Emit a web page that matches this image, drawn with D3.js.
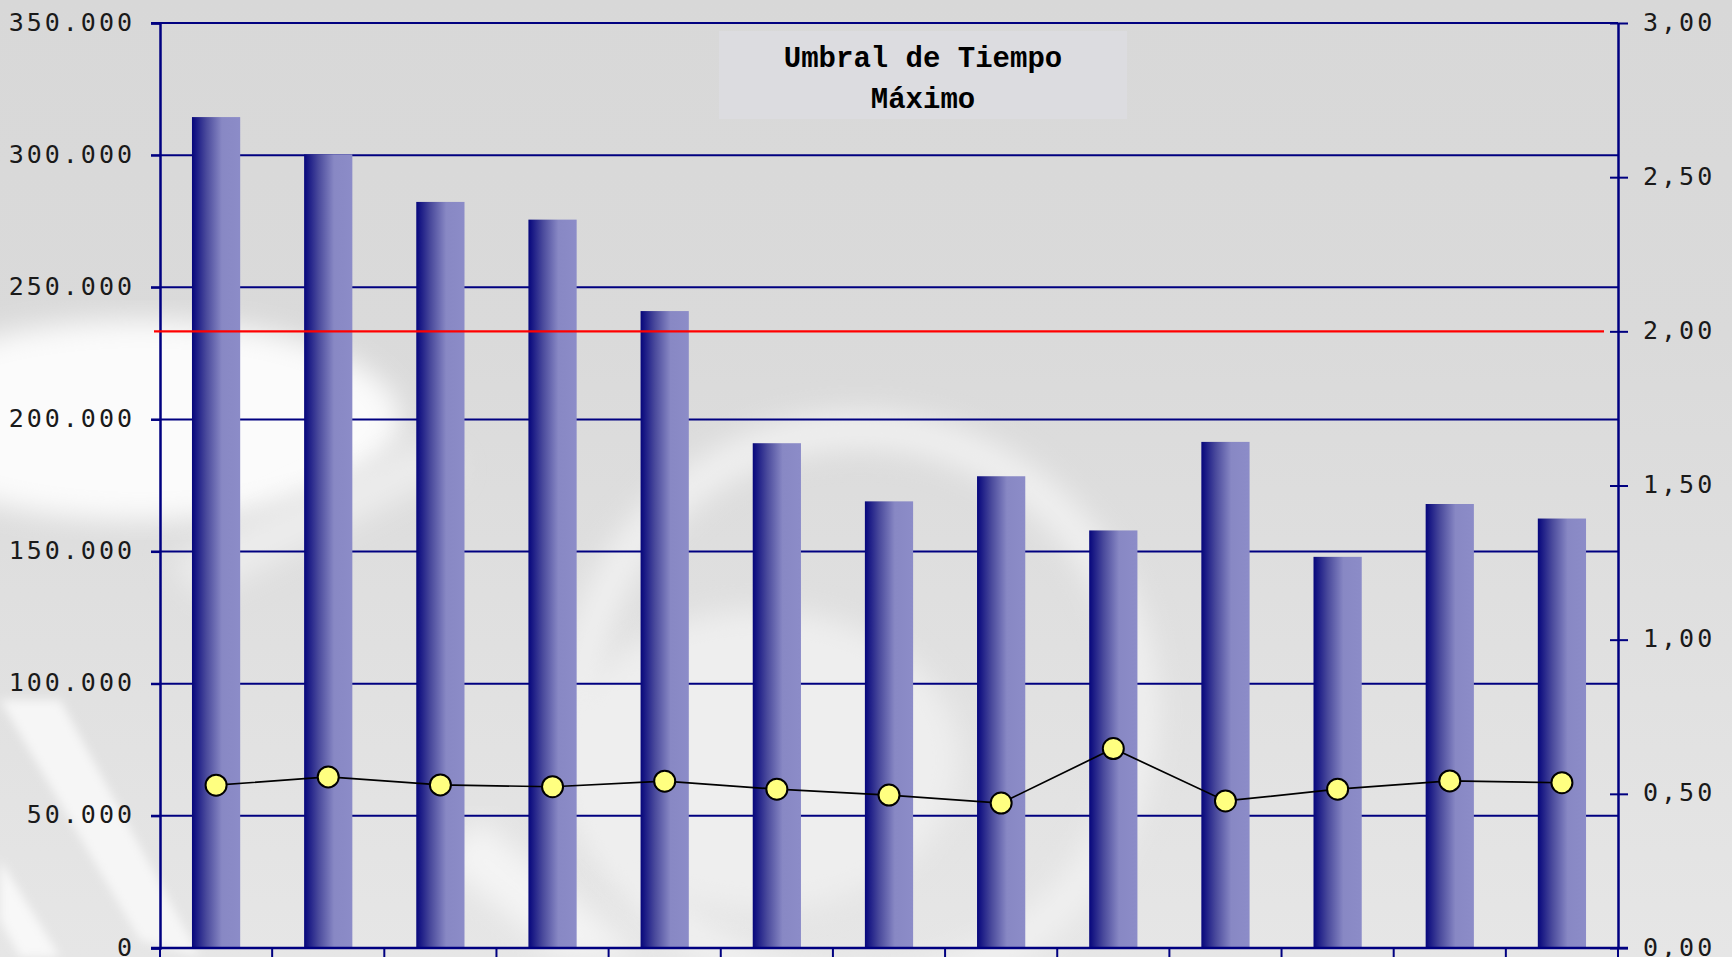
<!DOCTYPE html>
<html>
<head>
<meta charset="utf-8">
<script src="https://cdn.jsdelivr.net/npm/d3@7/dist/d3.min.js"></script>
<style>
  html, body { margin: 0; padding: 0; background: #d8d8d8; }
  svg { display: block; }
  .tick-label { font-family: "DejaVu Sans Mono", monospace; font-size: 25px; fill: #1a1a1a; letter-spacing: 3px; }
  .title { font-family: "Courier New", "Nimbus Mono PS", FreeMono, "Liberation Mono", monospace; font-size: 29px; font-weight: bold; fill: #000; }
</style>
</head>
<body>
<svg id="chart"></svg>
<script>
// data
var categories = ["1", "2", "3", "4", "5", "6", "7", "8", "9", "10", "11", "12", "13"];
var tiempo = [314400, 300300, 282300, 275600, 241000, 191000, 169000, 178500, 158000, 191500, 148000, 168000, 162500];
var ratio = [0.528, 0.555, 0.529, 0.523, 0.541, 0.515, 0.496, 0.470, 0.647, 0.477, 0.515, 0.542, 0.536];
var umbral = 2.0;
var leftTicks = [0, 50000, 100000, 150000, 200000, 250000, 300000, 350000];
var rightTicks = [0, 0.5, 1, 1.5, 2, 2.5, 3];
var titleLines = ["Umbral de Tiempo", "Máximo"];

var width = 1732, height = 957;
var margin = {top: 23, right: 114, bottom: 9, left: 160};
var navy = "#000080";

var svg = d3.select("#chart").attr("width", width).attr("height", height);
var defs = svg.append("defs");

// background
var bg = defs.append("linearGradient").attr("id", "bg").attr("x1", 0).attr("y1", 0).attr("x2", 0).attr("y2", 1);
bg.append("stop").attr("offset", 0).attr("stop-color", "#d8d8d8");
bg.append("stop").attr("offset", 0.35).attr("stop-color", "#dadada");
bg.append("stop").attr("offset", 1).attr("stop-color", "#e6e6e6");
defs.append("filter").attr("id", "blur").append("feGaussianBlur").attr("stdDeviation", 14);
defs.append("filter").attr("id", "blur2").append("feGaussianBlur").attr("stdDeviation", 5);

svg.append("rect").attr("width", width).attr("height", height).attr("fill", "url(#bg)");
var deco = svg.append("g");
deco.append("ellipse").attr("cx", 140).attr("cy", 420).attr("rx", 260).attr("ry", 100)
    .attr("fill", "#fbfbfb").attr("filter", "url(#blur)");
deco.append("circle").attr("cx", 860).attr("cy", 710).attr("r", 280)
    .attr("fill", "none").attr("stroke", "#f0f0f0").attr("stroke-width", 36).attr("filter", "url(#blur)");
deco.append("ellipse").attr("cx", 760).attr("cy", 760).attr("rx", 200).attr("ry", 150)
    .attr("fill", "#eeeeee").attr("filter", "url(#blur)");
deco.append("path").attr("d", "M0,700 L140,940 L200,957 L60,700 Z")
    .attr("fill", "#f6f6f6").attr("filter", "url(#blur2)");
deco.append("path").attr("d", "M0,860 L60,957 L20,957 L0,920 Z")
    .attr("fill", "#f8f8f8").attr("filter", "url(#blur2)");
deco.append("path").attr("d", "M170,560 L420,440 L460,470 L200,600 Z")
    .attr("fill", "#ececec").attr("filter", "url(#blur)");
deco.append("path").attr("d", "M480,820 L640,957 L560,957 L440,860 Z")
    .attr("fill", "#f4f4f4").attr("filter", "url(#blur)");

// bar gradient
var bar = defs.append("linearGradient").attr("id", "barGrad").attr("x1", 0).attr("y1", 0).attr("x2", 1).attr("y2", 0);
bar.append("stop").attr("offset", 0).attr("stop-color", "#06067c");
bar.append("stop").attr("offset", 0.3).attr("stop-color", "#4a4a9c");
bar.append("stop").attr("offset", 0.62).attr("stop-color", "#8888c4");
bar.append("stop").attr("offset", 1).attr("stop-color", "#8c8cc8");

var x = d3.scaleBand().domain(categories).range([margin.left, width - margin.right]).padding(0);
var y = d3.scaleLinear().domain([0, 350000]).range([height - margin.bottom, margin.top]);
var y2 = d3.scaleLinear().domain([0, 3]).range([height - margin.bottom, margin.top]);

var fmtLeft = function(v){ return d3.format(",")(v).replace(/,/g, "."); };
var fmtRight = function(v){ return d3.format(".2f")(v).replace(".", ","); };

// gridlines
svg.append("g").selectAll("line").data(leftTicks).join("line")
    .attr("x1", margin.left - 9).attr("x2", width - margin.right)
    .attr("y1", function(d){ return y(d); }).attr("y2", function(d){ return y(d); })
    .attr("stroke", navy).attr("stroke-width", 2);

// bars
var barW = x.bandwidth() * 0.43;
svg.append("g").selectAll("rect").data(tiempo).join("rect")
    .attr("x", function(d, i){ return x(categories[i]) + (x.bandwidth() - barW) / 2; })
    .attr("width", barW)
    .attr("y", function(d){ return y(d); })
    .attr("height", function(d){ return y(0) - y(d); })
    .attr("fill", "url(#barGrad)");

// axes
var leftAxis = svg.append("g").attr("transform", "translate(" + margin.left + ",0)")
    .call(d3.axisLeft(y).tickValues(leftTicks).tickFormat(fmtLeft).tickSize(9).tickPadding(19));
var rightAxis = svg.append("g").attr("transform", "translate(" + (width - margin.right) + ",0)")
    .call(d3.axisRight(y2).tickValues(rightTicks).tickFormat(fmtRight).tickSize(0).tickPadding(25));
rightAxis.selectAll(".tick").append("line").attr("x1", -8).attr("x2", 10).attr("stroke", navy).attr("stroke-width", 2);
var bottomAxis = svg.append("g").attr("transform", "translate(0," + y(0) + ")")
    .call(d3.axisBottom(x).tickSize(0).tickFormat(""));
bottomAxis.selectAll(".tick").remove();
bottomAxis.append("g").selectAll("line").data(categories.concat(["end"])).join("line")
    .attr("x1", function(d, i){ return margin.left + i * x.step(); })
    .attr("x2", function(d, i){ return margin.left + i * x.step(); })
    .attr("y1", 0).attr("y2", 12).attr("stroke", navy).attr("stroke-width", 2);

[leftAxis, rightAxis, bottomAxis].forEach(function(a){
    a.select(".domain").attr("stroke", navy).attr("stroke-width", 2.5);
    a.selectAll(".tick line").attr("stroke", navy).attr("stroke-width", 2);
    a.selectAll(".tick text").attr("class", "tick-label").attr("dy", "0.28em");
});
leftAxis.selectAll(".tick text").attr("dx", "3px");
bottomAxis.select(".domain").attr("d", "M" + (margin.left - 9) + ",0H" + (width - margin.right + 10));

// threshold line
svg.append("line")
    .attr("x1", margin.left - 6).attr("x2", width - margin.right - 14)
    .attr("y1", y2(umbral)).attr("y2", y2(umbral))
    .attr("stroke", "#ff0000").attr("stroke-width", 2.2);

// ratio line
var line = d3.line()
    .x(function(d, i){ return x(categories[i]) + x.bandwidth() / 2; })
    .y(function(d){ return y2(d); });
svg.append("path").datum(ratio).attr("d", line)
    .attr("fill", "none").attr("stroke", "#000").attr("stroke-width", 1.7);
svg.append("g").selectAll("circle").data(ratio).join("circle")
    .attr("cx", function(d, i){ return x(categories[i]) + x.bandwidth() / 2; })
    .attr("cy", function(d){ return y2(d); })
    .attr("r", 10.5)
    .attr("fill", "#ffff80").attr("stroke", "#000").attr("stroke-width", 2);

// title box
var tb = svg.append("g");
tb.append("rect").attr("x", 719).attr("y", 31).attr("width", 408).attr("height", 88).attr("fill", "#dcdce0");
tb.selectAll("text").data(titleLines).join("text")
    .attr("class", "title")
    .attr("x", 923)
    .attr("y", function(d, i){ return 67 + i * 41; })
    .attr("text-anchor", "middle")
    .text(function(d){ return d; });
</script>
</body>
</html>
